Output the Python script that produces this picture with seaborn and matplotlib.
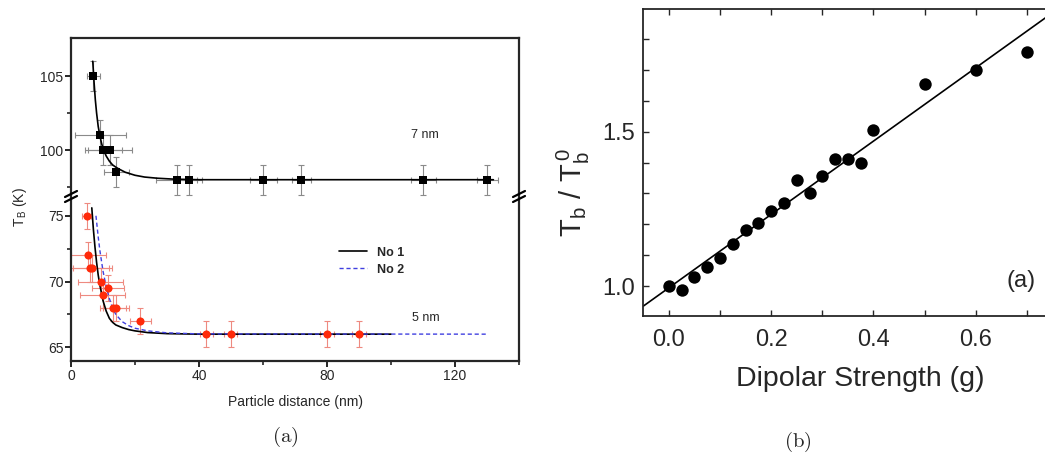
import numpy as np
import pandas as pd
import matplotlib
matplotlib.use("Agg")
import matplotlib.pyplot as plt
import seaborn as sns
from matplotlib.lines import Line2D
from matplotlib.ticker import MultipleLocator, FixedLocator

# ---- panel (a): 7 nm particles (black squares) ----
d7_x = [7.0, 9.1, 10.1, 12.2, 14.2, 33.0, 36.9, 60.1, 72.0, 110.1, 130.1]
d7_y = [105, 101, 100, 100, 98.5, 98, 98, 98, 98, 98, 98]
d7_xerr = [2.0, 8.0, 5.7, 7.0, 4.0, 6.4, 4.0, 4.2, 3.0, 4.0, 3.2]
d7_yerr = [1.0] * 11

fit7_x = [6.8, 7.2, 7.6, 8.0, 8.5, 9.0, 9.5, 10.0, 11.0, 12.0, 13.0, 14.0, 15.0,
          17.0, 20.0, 23.0, 27.0, 32.0, 40.0, 132.0]
fit7_y = [106.0, 104.6, 103.4, 102.5, 101.6, 101.0, 100.5, 100.1, 99.6, 99.25,
          99.0, 98.85, 98.72, 98.5, 98.3, 98.18, 98.1, 98.04, 98.0, 98.0]

# ---- panel (a): 5 nm particles (red circles) ----
d5_x = [4.9, 5.4, 5.9, 6.7, 9.3, 11.5, 9.9, 13.2, 14.1, 21.7, 42.3, 49.9, 80.0, 90.0]
d5_y = [75, 72, 71, 71, 70, 69.5, 69, 68, 68, 67, 66, 66, 66, 66]
d5_xerr = [1.5, 5.4, 6.0, 6.0, 7.0, 5.0, 7.0, 4.0, 4.0, 3.2, 2.0, 2.0, 2.3, 2.3]
d5_yerr = [1.0] * 14

no1_x = [6.5, 7.0, 7.5, 8.0, 8.5, 9.0, 10.0, 11.0, 12.0, 13.0, 14.0, 16.0, 18.0,
         20.0, 24.0, 30.0, 40.0, 100.0]
no1_y = [75.6, 73.95, 72.6, 71.45, 70.5, 69.75, 68.55, 67.75, 67.2, 66.9, 66.7,
         66.5, 66.35, 66.25, 66.12, 66.04, 66.0, 66.0]
no2_x = [7.8, 8.5, 9.0, 10.0, 11.0, 12.0, 13.0, 14.0, 16.0, 18.0, 20.0, 24.0,
         30.0, 40.0, 130.0]
no2_y = [75.0, 73.4, 72.4, 70.8, 69.6, 68.7, 68.0, 67.5, 66.95, 66.65, 66.45,
         66.25, 66.1, 66.02, 66.0]

# ---- panel (b) ----
g_vals = [0.0, 0.025, 0.05, 0.075, 0.1, 0.125, 0.15, 0.175, 0.2, 0.225, 0.25,
          0.275, 0.3, 0.325, 0.35, 0.375, 0.4, 0.5, 0.6, 0.7]
tb_ratio = [1.0, 0.987, 1.03, 1.063, 1.09, 1.135, 1.181, 1.203, 1.244, 1.27,
            1.343, 1.302, 1.357, 1.41, 1.41, 1.397, 1.505, 1.653, 1.70, 1.759]
fit_g = [-0.05, 0.8]
fit_tb = [0.935, 1.944]

sns.set_style("ticks")
plt.rcParams["font.family"] = ["Liberation Sans", "DejaVu Sans"]
plt.rcParams["mathtext.fontset"] = "cm"

W, H = 1045, 455
fig = plt.figure(figsize=(W / 100, H / 100), dpi=100)


def box(l, t, r, b):
    return [l / W, 1 - b / H, (r - l) / W, (b - t) / H]


ax_t = fig.add_axes(box(71, 38, 519, 196))
ax_l = fig.add_axes(box(71, 198, 519, 361))
ax_b = fig.add_axes(box(643.3, 9, 1078, 316))

# upper part of broken axis
ax_t.errorbar(d7_x, d7_y, xerr=d7_xerr, yerr=d7_yerr, fmt="none", ecolor="#8a8a8a",
              elinewidth=0.8, capsize=2.5, capthick=0.8, zorder=1)
sns.lineplot(x=fit7_x, y=fit7_y, ax=ax_t, color="black", lw=1.2, estimator=None, zorder=2)
sns.scatterplot(x=d7_x, y=d7_y, ax=ax_t, marker="s", s=34, color="black",
                edgecolor="black", linewidth=0, zorder=3)
ax_t.set_xlim(0, 140)
ax_t.set_ylim(96.9, 107.57)
ax_t.spines["bottom"].set_visible(False)
ax_t.set_xticks([])
ax_t.yaxis.set_major_locator(FixedLocator([100, 105]))
ax_t.yaxis.set_minor_locator(FixedLocator([97.5, 102.5]))
ax_t.text(110.6, 101.0, "7 nm", fontsize=9, ha="center", va="center")

# lower part
ax_l.errorbar(d5_x, d5_y, xerr=d5_xerr, yerr=d5_yerr, fmt="none", ecolor="#ee8a80",
              elinewidth=0.8, capsize=2.5, capthick=0.8, zorder=1)
sns.lineplot(x=no1_x, y=no1_y, ax=ax_l, color="black", lw=1.2, estimator=None,
             label="No 1", zorder=2)
sns.lineplot(x=no2_x, y=no2_y, ax=ax_l, color="#4040e0", lw=1.0, estimator=None,
             linestyle=(0, (3, 2)), label="No 2", zorder=2)
sns.scatterplot(x=d5_x, y=d5_y, ax=ax_l, marker="o", s=34, color="#ff2a0a",
                linewidth=0, zorder=3)
ax_l.set_xlim(0, 140)
ax_l.set_ylim(63.96, 76.35)
ax_l.spines["top"].set_visible(False)
ax_l.xaxis.set_major_locator(FixedLocator([0, 40, 80, 120]))
ax_l.xaxis.set_minor_locator(FixedLocator([20, 60, 100, 140]))
ax_l.yaxis.set_major_locator(FixedLocator([65, 70, 75]))
ax_l.yaxis.set_minor_locator(FixedLocator([67.5, 72.5]))
ax_l.text(111, 67.2, "5 nm", fontsize=9, ha="center", va="center")
ax_l.set_xlabel("Particle distance (nm)", fontsize=10, labelpad=9)
ax_l.legend(loc="upper left", bbox_to_anchor=(0.585, 0.74), frameon=False,
            prop={"weight": "bold", "size": 9}, handlelength=2.2, borderpad=0,
            labelspacing=0.4, handletextpad=0.8)

for ax in (ax_t, ax_l):
    for s in ax.spines.values():
        s.set_linewidth(1.6)
    ax.tick_params(which="major", direction="out", length=4, width=1.4,
                   labelsize=10, pad=1.5)
    ax.tick_params(which="minor", direction="out", length=3, width=1.2)
    ax.set_ylabel("")

fig.text(20 / W, 1 - 207 / H, r"T$_\mathregular{B}$ (K)", rotation=90,
         ha="center", va="center", fontsize=10)

# break marks
for xp in (71, 519):
    for yp in (194, 199):
        fig.add_artist(Line2D([(xp - 6) / W, (xp + 6) / W],
                              [1 - (yp + 3) / H, 1 - (yp - 3) / H],
                              color="black", lw=1.6))

# panel (b)
sns.lineplot(x=fit_g, y=fit_tb, ax=ax_b, color="black", lw=1.2, estimator=None)
sns.scatterplot(x=g_vals, y=tb_ratio, ax=ax_b, s=80, color="black", linewidth=0,
                zorder=3)
ax_b.set_xlim(-0.05, 0.8)
ax_b.set_ylim(0.903, 1.897)
ax_b.xaxis.set_major_locator(FixedLocator([0.0, 0.2, 0.4, 0.6]))
ax_b.xaxis.set_minor_locator(FixedLocator([0.1, 0.3, 0.5, 0.7, 0.8]))
ax_b.yaxis.set_major_locator(FixedLocator([1.0, 1.5]))
ax_b.yaxis.set_minor_locator(FixedLocator([1.1, 1.2, 1.3, 1.4, 1.6, 1.7, 1.8]))
ax_b.tick_params(which="both", direction="in", top=True, right=True, length=4,
                 width=1.0, labelsize=17)
ax_b.tick_params(axis="x", pad=9)
ax_b.tick_params(axis="y", pad=6)
for s in ax_b.spines.values():
    s.set_linewidth(1.3)
ax_b.set_xlabel("Dipolar Strength (g)", fontsize=20.5, labelpad=11)
ax_b.set_ylabel("")
fig.text(573 / W, 1 - 193 / H, r"$\mathregular{T_b\ /\ T_b^{\,0}}$", rotation=90,
         ha="center", va="center", fontsize=21)
ax_b.text(0.688, 1.017, "(a)", fontsize=17, ha="center", va="center")

fig.text(285 / W, 1 - 437 / H, r"$\mathrm{(a)}$", fontsize=15, ha="center", va="center")
fig.text(798 / W, 1 - 442 / H, r"$\mathrm{(b)}$", fontsize=15, ha="center", va="center")

fig.savefig("out.png", dpi=100)
